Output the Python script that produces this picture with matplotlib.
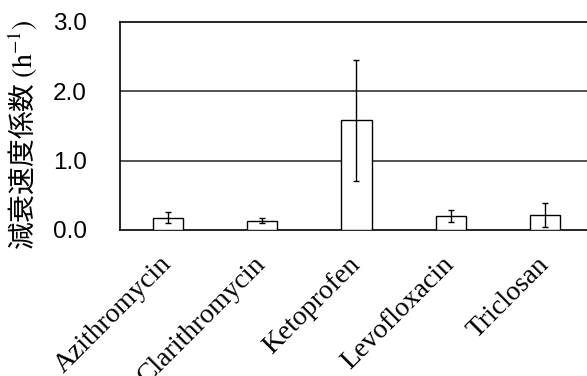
import matplotlib
matplotlib.use("Agg")
import matplotlib.pyplot as plt
import numpy as np

categories = ["Azithromycin", "Clarithromycin", "Ketoprofen", "Levofloxacin", "Triclosan"]
values = [0.18, 0.135, 1.58, 0.20, 0.22]
errors = [0.08, 0.035, 0.87, 0.085, 0.175]
yticks = [0.0, 1.0, 2.0, 3.0]
ytick_labels = ["0.0", "1.0", "2.0", "3.0"]
ylabel = "減衰速度係数"

plt.rcParams['mathtext.fontset'] = 'stix'

fig = plt.figure(figsize=(5.87, 3.76), dpi=100)
ax = fig.add_axes([120/587, 1-230/376, 1-120/587, (230-22)/376])

x = np.arange(len(categories))
ax.bar(x, values, width=0.32, color='white', edgecolor='black', linewidth=1.0, zorder=3)
ax.errorbar(x, values, yerr=errors, fmt='none', ecolor='black', elinewidth=1.0,
            capsize=2.5, capthick=1.0, zorder=4)

ax.set_xlim(-0.509, 4.446)
ax.set_ylim(0, 3.0)
ax.set_yticks(yticks)
ax.set_yticklabels(ytick_labels, family='Liberation Sans', fontsize=17.5)
ax.tick_params(axis='y', length=0, pad=24)
ax.set_xticks(x)
ax.set_xticklabels(categories, family='Liberation Serif', fontsize=20, rotation=45,
                   ha='right', va='center', rotation_mode='anchor')
ax.tick_params(axis='x', length=0, pad=22)

for y in [1.0, 2.0]:
    ax.axhline(y, color='#333333', linewidth=1.2, zorder=1)

for s in ['right']:
    ax.spines[s].set_visible(False)
for s in ['left', 'bottom', 'top']:
    ax.spines[s].set_color('black')
    ax.spines[s].set_linewidth(1.2)

fig.text(23/587, 1-135/376, ylabel + r' $\mathrm{(h^{-1})}$', rotation=90,
         ha='center', va='center', fontsize=20, family=['Noto Sans CJK JP', 'DejaVu Sans'])

fig.savefig('out.png', dpi=100)
